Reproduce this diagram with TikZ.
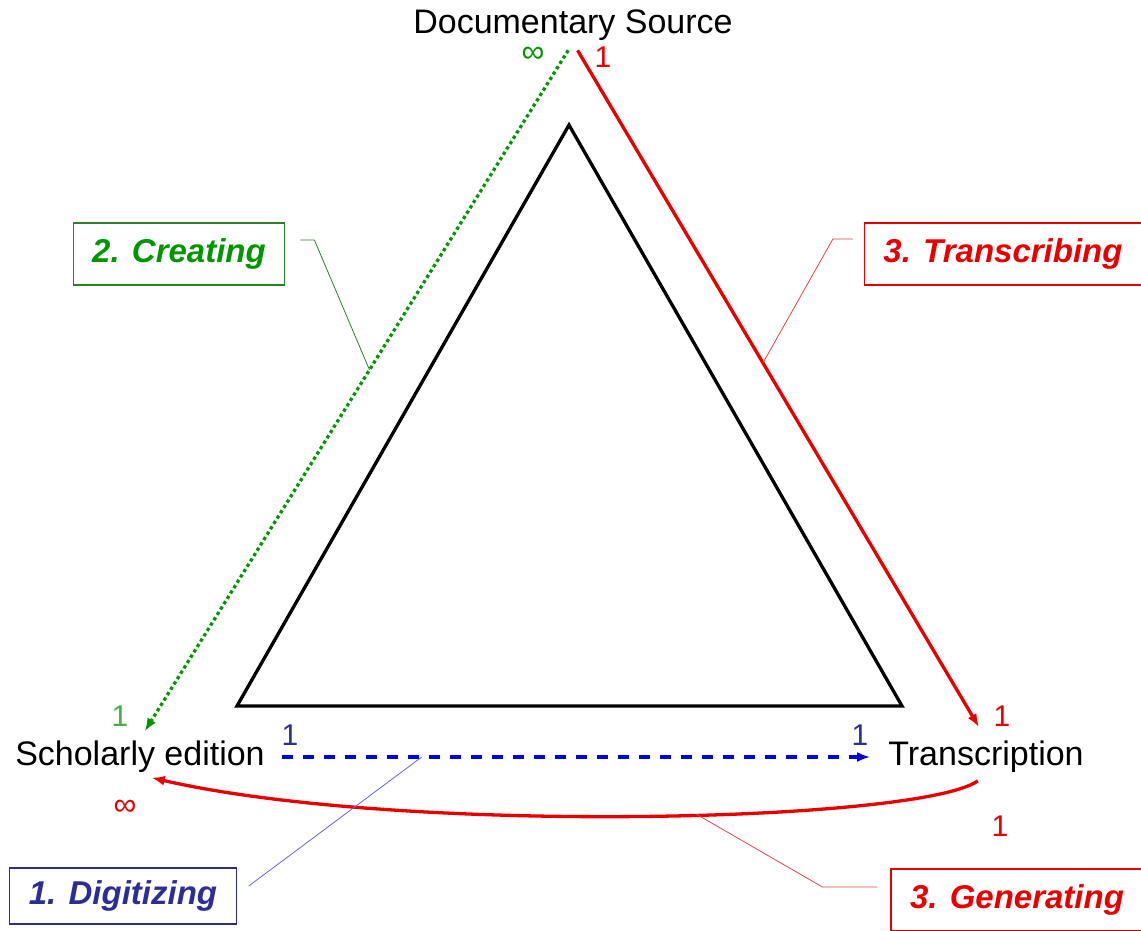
\documentclass[tikz,border=0pt]{standalone}
\usepackage{fontspec}
\setmainfont{Liberation Sans}
\usetikzlibrary{arrows.meta}
\definecolor{srcgreen}{RGB}{0,150,0}
\definecolor{onegreen}{RGB}{70,175,70}
\definecolor{boxgreen}{RGB}{40,130,40}
\definecolor{relred}{RGB}{232,0,0}
\definecolor{leadred}{RGB}{220,70,70}
\definecolor{relblue}{RGB}{0,0,230}
\definecolor{digblue}{RGB}{45,45,150}
\definecolor{leadblue}{RGB}{100,100,220}
\tikzstyle{entity} = [inner sep=2pt, font=\fontsize{34}{40}\selectfont]
\tikzstyle{task} = [rectangle, draw, line width=1.2pt, fill=white, inner xsep=19pt,
    minimum height=62pt, font=\fontsize{33}{40}\selectfont\bfseries\itshape]
\tikzstyle{card} = [inner sep=0pt, font=\fontsize{30}{36}\selectfont]
\tikzstyle{inf} = [inner sep=0pt, font=\fontsize{32}{34}\selectfont]
\tikzstyle{rel} = [draw, line width=3.3pt, -{Latex[length=13pt,width=10pt]}]
\tikzstyle{lead} = [draw, line width=0.8pt]
\begin{document}
\begin{tikzpicture}[x=1pt, y=-1pt]
        \useasboundingbox (0,0) rectangle (1141,931);
        % Place nodes
        \node [entity] (src) at (573,25) {Documentary Source};
        \node [entity] (sch) at (140,757) {Scholarly edition};
        \node [entity] (trn) at (986,757) {Transcription};
        % Inner triangle
        \draw [line width=3.3pt, line join=miter] (569,125) -- (902,706) -- (237,706) -- cycle;
        % Cardinalities
        \node [inf, text=srcgreen] (creinf) at (533,55) {∞};
        \node [card, text=relred] (trbone) at (603,57) {1};
        \node [card, text=onegreen] (creone) at (120,716) {1};
        \node [card, text=digblue] (digonea) at (290,735) {1};
        \node [card, text=digblue] (digoneb) at (860,735) {1};
        \node [card, text=relred] (trbtwo) at (1002,716) {1};
        \node [inf, text=relred] (geninf) at (125,808) {∞};
        \node [card, text=relred] (genone) at (1000,826) {1};
        % Draw edges
        \path [rel, srcgreen, dash pattern=on 3.3pt off 3pt, shorten <=9pt, shorten >=9pt]
            (src.south) -- coordinate[pos=0.47] (crept) (sch.north);
        \path [rel, relred, shorten <=9pt, shorten >=14pt]
            (src.south) -- coordinate[pos=0.46] (trbpt) (trn.north);
        \path [rel, relblue, dash pattern=on 11pt off 10pt, shorten <=15pt, shorten >=16pt]
            (sch.east) -- coordinate[pos=0.25] (digpt) (trn.west);
        \path [rel, relred, shorten <=10pt, shorten >=12pt]
            (trn.south) .. controls (920,822) and (400,835) .. coordinate[pos=0.44] (genpt) (sch.south);
        % Task boxes
        \node [task, draw=boxgreen, text=srcgreen] (cre) at (179,254) {2. Creating};
        \node [task, draw=relred, text=relred] (trb) at (1003,254) {3. Transcribing};
        \node [task, draw=digblue, text=digblue, minimum height=56pt] (dig) at (123,896) {1. Digitizing};
        \node [task, draw=relred, text=relred] (gen) at (1017,900) {3. Generating};
        % Leader lines
        \path [lead, boxgreen] ([xshift=15pt,yshift=14pt]cre.east) -- ++(14,0) -- (crept);
        \path [lead, leadred] ([xshift=-11pt,yshift=15pt]trb.west) -- ++(-20,0) -- (trbpt);
        \path [lead, leadblue] ([xshift=12pt,yshift=10pt]dig.east) -- (digpt);
        \path [lead, leadred] ([xshift=-13pt,yshift=13pt]gen.west) -- ++(-55,0) -- (genpt);
\end{tikzpicture}
\end{document}
